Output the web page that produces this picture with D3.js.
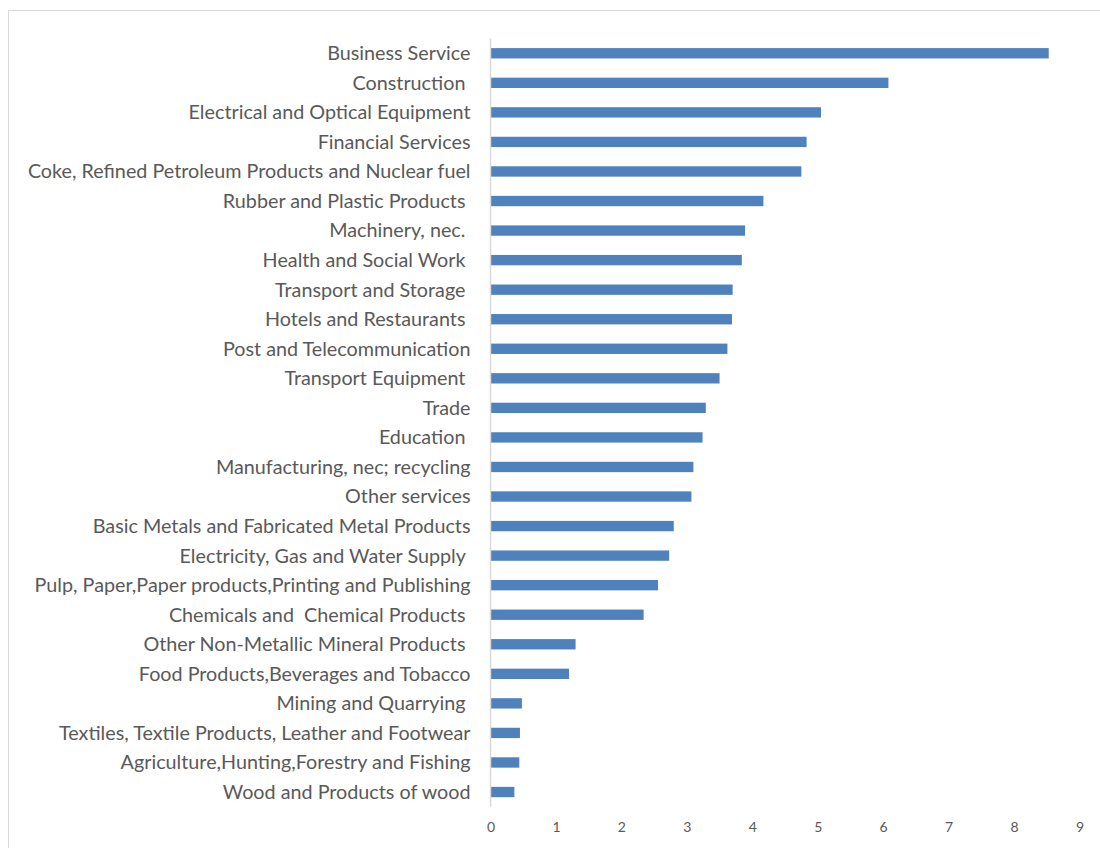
<!DOCTYPE html>
<html>
<head>
<meta charset="utf-8">
<script src="https://cdn.jsdelivr.net/npm/d3@7"></script>
<style>
  html, body { margin: 0; padding: 0; background: #fff; }
  svg { display: block; }
  text { white-space: pre; }
</style>
</head>
<body>
<svg id="chart" width="1100" height="848"></svg>
<script>
// Sectors, top to bottom
const sectors = [
  "Business Service",
  "Construction ",
  "Electrical and Optical Equipment",
  "Financial Services",
  "Coke, Refined Petroleum Products and Nuclear fuel",
  "Rubber and Plastic Products ",
  "Machinery, nec. ",
  "Health and Social Work ",
  "Transport and Storage ",
  "Hotels and Restaurants ",
  "Post and Telecommunication",
  "Transport Equipment ",
  "Trade",
  "Education ",
  "Manufacturing, nec; recycling",
  "Other services",
  "Basic Metals and Fabricated Metal Products",
  "Electricity, Gas and Water Supply ",
  "Pulp, Paper,Paper products,Printing and Publishing",
  "Chemicals and  Chemical Products ",
  "Other Non-Metallic Mineral Products ",
  "Food Products,Beverages and Tobacco",
  "Mining and Quarrying ",
  "Textiles, Textile Products, Leather and Footwear",
  "Agriculture,Hunting,Forestry and Fishing",
  "Wood and Products of wood"
];

const values = [
  8.53, 6.08, 5.05, 4.83, 4.75, 4.17, 3.89, 3.84, 3.70, 3.69,
  3.62, 3.50, 3.29, 3.24, 3.10, 3.07, 2.80, 2.73, 2.56, 2.34,
  1.30, 1.20, 0.48, 0.45, 0.44, 0.365
];

const xTicks = [0, 1, 2, 3, 4, 5, 6, 7, 8, 9];

const data = sectors.map((s, i) => ({ sector: s, value: values[i] }));

const svg = d3.select("#chart");
const font = "Lato, 'Open Sans', sans-serif";

// chart area frame
svg.append("rect")
  .attr("x", 8.5).attr("y", 10.5)
  .attr("width", 1100).attr("height", 850)
  .attr("fill", "#fff")
  .attr("stroke", "#d9d9d9")
  .attr("stroke-width", 1);

const plot = { left: 490.5, right: 1079.5, top: 38.5, bottom: 806.8 };

const x = d3.scaleLinear().domain([0, 9]).range([plot.left, plot.right]);
const y = d3.scaleBand()
  .domain(sectors)
  .range([plot.top, plot.bottom])
  .paddingInner(0.65)
  .paddingOuter(0.325);

// bars
svg.append("g")
  .selectAll("rect")
  .data(data)
  .join("rect")
  .attr("x", x(0))
  .attr("y", d => y(d.sector))
  .attr("width", d => x(d.value) - x(0))
  .attr("height", y.bandwidth())
  .attr("fill", "#4f81bd");

// category axis
const yAxis = svg.append("g")
  .attr("transform", `translate(${x(0)},0)`)
  .call(d3.axisLeft(y).tickSize(0).tickPadding(20));
yAxis.select(".domain")
  .attr("d", `M0,${plot.top}V${plot.bottom}`)
  .attr("stroke", "#d9d9d9")
  .attr("stroke-width", 1.5);
const catLabels = yAxis.selectAll(".tick text")
  .attr("fill", "#595959")
  .attr("font-family", font)
  .attr("font-size", 17)
  .attr("dy", "0.35em");

// size the category font so the longest label spans the left margin
let widest = 0;
catLabels.each(function () {
  widest = Math.max(widest, this.getComputedTextLength());
});
const catSize = 17 * 443 / widest;
catLabels.attr("font-size", catSize);

// value axis
const xAxis = svg.append("g")
  .attr("transform", `translate(0,${plot.bottom})`)
  .call(d3.axisBottom(x).tickValues(xTicks).tickSize(0).tickPadding(15)
    .tickFormat(d3.format("d")));
xAxis.select(".domain").remove();
xAxis.selectAll(".tick text")
  .attr("fill", "#595959")
  .attr("font-family", font)
  .attr("font-size", 14);
</script>
</body>
</html>
